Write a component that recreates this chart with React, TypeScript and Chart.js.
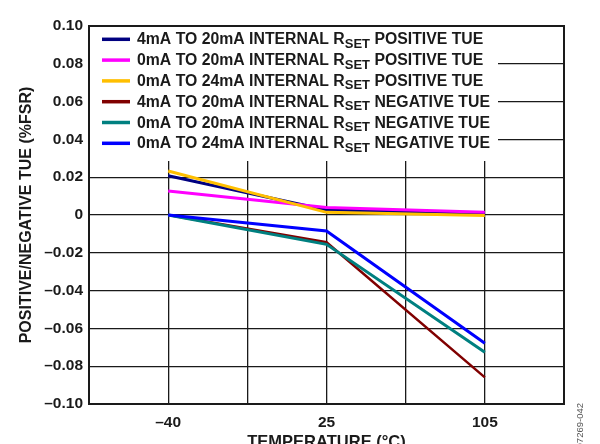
import React, { useEffect, useRef } from "react";
import { Chart, registerables } from "chart.js";

Chart.register(...registerables);

const TEMPS = ["–40", "25", "105"];
const X_LABELS = ["", TEMPS[0], "", TEMPS[1], "", TEMPS[2], ""];

const SERIES_NAMES = [
  ["4mA TO 20mA INTERNAL R", "SET", " POSITIVE TUE"],
  ["0mA TO 20mA INTERNAL R", "SET", " POSITIVE TUE"],
  ["0mA TO 24mA INTERNAL R", "SET", " POSITIVE TUE"],
  ["4mA TO 20mA INTERNAL R", "SET", " NEGATIVE TUE"],
  ["0mA TO 20mA INTERNAL R", "SET", " NEGATIVE TUE"],
  ["0mA TO 24mA INTERNAL R", "SET", " NEGATIVE TUE"],
];

const POS_4_20 = [0.0208, 0.0026, 0.0009];
const POS_0_20 = [0.0127, 0.004, 0.0014];
const POS_0_24 = [0.0233, 0.0014, -0.0002];
const NEG_4_20 = [0.0, -0.0144, -0.0859];
const NEG_0_20 = [0.0, -0.0155, -0.0726];
const NEG_0_24 = [0.0, -0.0085, -0.0679];

const SERIES_VALUES = [POS_4_20, POS_0_20, POS_0_24, NEG_4_20, NEG_0_20, NEG_0_24];
const COLORS = ["#000080", "#ff00ff", "#ffbf00", "#800000", "#008080", "#0000ff"];
const WIDTHS = [3, 3, 3, 2.5, 3, 3];

const Y_MIN = -0.1;
const Y_MAX = 0.1;
const Y_STEP = 0.02;

const FONT = "'Liberation Sans', Arial, sans-serif";
const INK = "#1a1a1a";

const overlayPlugin = {
  id: "overlay",
  afterDatasetsDraw(chart: any) {
    const { ctx, chartArea } = chart;
    const { left, top } = chartArea;
    ctx.save();
    // legend box
    ctx.fillStyle = "#ffffff";
    ctx.fillRect(left + 1, top + 1, 497 - left, 160 - top);
    const rowY0 = top + 13.3;
    const rowStep = 20.8;
    SERIES_NAMES.forEach((parts, i) => {
      const y = rowY0 + i * rowStep;
      ctx.strokeStyle = COLORS[i];
      ctx.lineWidth = 3.5;
      ctx.beginPath();
      ctx.moveTo(left + 13, y);
      ctx.lineTo(left + 41, y);
      ctx.stroke();
      ctx.fillStyle = INK;
      ctx.textBaseline = "alphabetic";
      ctx.textAlign = "left";
      let x = left + 48;
      const base = y + 5;
      ctx.font = `bold 15.8px ${FONT}`;
      ctx.fillText(parts[0], x, base);
      x += ctx.measureText(parts[0]).width;
      ctx.font = `bold 13px ${FONT}`;
      ctx.fillText(parts[1], x, base + 3.5);
      x += ctx.measureText(parts[1]).width;
      ctx.font = `bold 15.8px ${FONT}`;
      ctx.fillText(parts[2], x, base);
    });
    ctx.restore();
  },
  afterDraw(chart: any) {
    const { ctx, chartArea } = chart;
    const { left, top, right, bottom } = chartArea;
    ctx.save();
    ctx.strokeStyle = INK;
    ctx.lineWidth = 2;
    ctx.strokeRect(left, top, right - left, bottom - top);
    // axis titles
    ctx.fillStyle = INK;
    ctx.font = `bold 16.5px ${FONT}`;
    ctx.textAlign = "center";
    ctx.textBaseline = "top";
    ctx.fillText("TEMPERATURE (°C)", (left + right) / 2, 434);
    ctx.save();
    ctx.translate(27, (top + bottom) / 2);
    ctx.rotate(-Math.PI / 2);
    ctx.font = `bold 16px ${FONT}`;
    ctx.textBaseline = "middle";
    ctx.fillText("POSITIVE/NEGATIVE TUE (%FSR)", 0, 0);
    ctx.restore();
    // figure tag
    ctx.save();
    ctx.translate(580, 403);
    ctx.rotate(-Math.PI / 2);
    ctx.font = `9.5px ${FONT}`;
    ctx.fillStyle = "#555";
    ctx.textAlign = "right";
    ctx.textBaseline = "middle";
    ctx.fillText("07269-042", 0, 0);
    ctx.restore();
    ctx.restore();
  },
};

function fmtY(v: number): string {
  const r = Math.round(v * 100) / 100;
  if (Math.abs(r) < 1e-9) return "0";
  const s = Math.abs(r).toFixed(2);
  return r < 0 ? "–" + s : s;
}

export default function App() {
  const ref = useRef<HTMLCanvasElement | null>(null);
  useEffect(() => {
    if (!ref.current) return;
    const chart = new Chart(ref.current, {
      type: "line",
      data: {
        labels: X_LABELS,
        datasets: SERIES_VALUES.map((vals, i) => ({
          label: SERIES_NAMES[i].join(""),
          data: vals.map((v, j) => ({ x: TEMPS[j], y: v })),
          borderColor: COLORS[i],
          backgroundColor: COLORS[i],
          borderWidth: WIDTHS[i],
          pointRadius: 0,
          tension: 0,
          fill: false,
          order: -i,
        })),
      },
      options: {
        animation: false,
        responsive: true,
        maintainAspectRatio: false,
        layout: { padding: { top: 26, right: 36, left: 0, bottom: 0 } },
        plugins: {
          legend: { display: false },
          tooltip: { enabled: false },
        },
        scales: {
          x: {
            type: "category",
            offset: false,
            afterFit: (s: any) => {
              s.height = 40;
            },
            grid: { color: INK, lineWidth: 1.3, drawTicks: false },
            border: { display: true, color: INK, width: 2 },
            ticks: {
              autoSkip: false,
              maxRotation: 0,
              padding: 9,
              color: INK,
              font: { family: FONT, weight: "bold", size: 15.5 },
            },
          },
          y: {
            min: Y_MIN,
            max: Y_MAX,
            afterFit: (s: any) => {
              s.width = 89;
            },
            grid: { color: INK, lineWidth: 1.3, drawTicks: false },
            border: { display: true, color: INK, width: 2 },
            ticks: {
              stepSize: Y_STEP,
              padding: 6,
              color: INK,
              font: { family: FONT, weight: "bold", size: 15.5 },
              callback: (v: any) => fmtY(Number(v)),
            },
          },
        },
      },
      plugins: [overlayPlugin],
    } as any);
    return () => chart.destroy();
  }, []);
  return (
    <div style={{ position: "absolute", left: 0, top: 0, width: 600, height: 444, background: "#fff" }}>
      <canvas ref={ref} />
    </div>
  );
}
